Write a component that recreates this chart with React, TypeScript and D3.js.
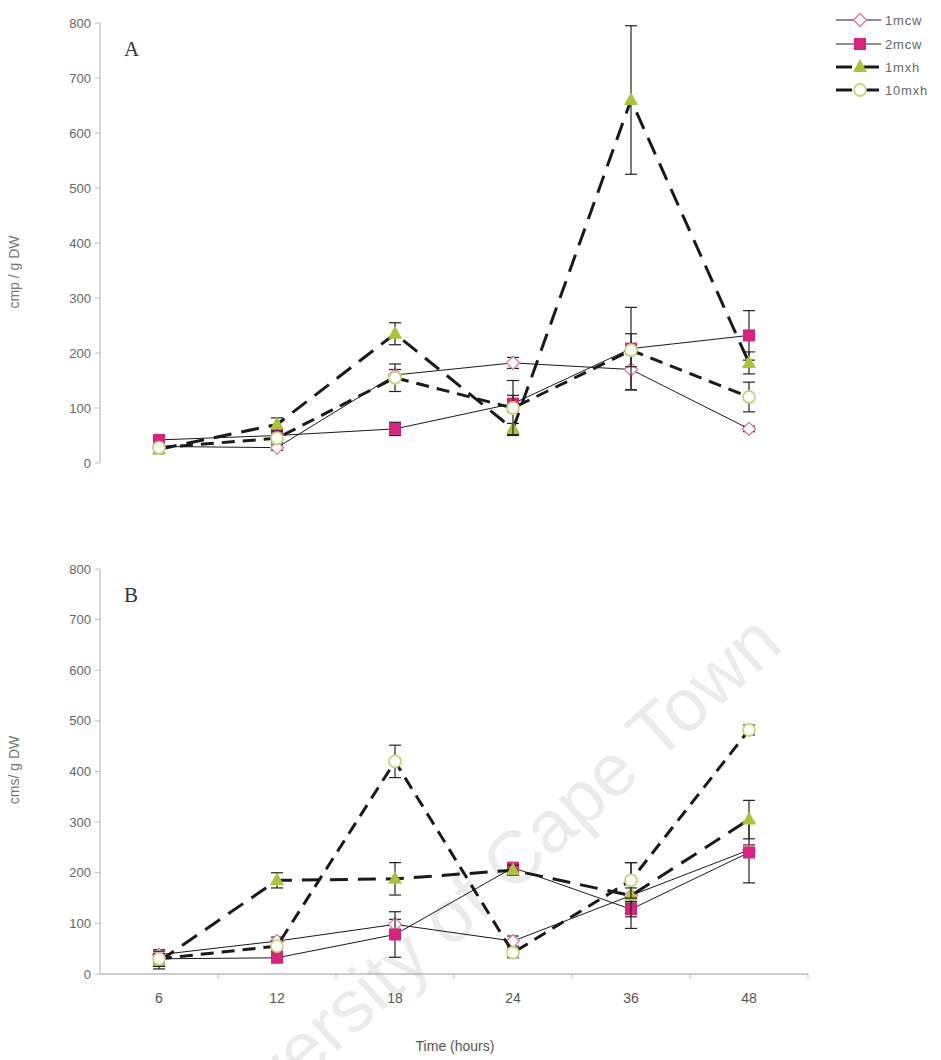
import React from "react";
import * as d3 from "d3";

const categories = ["6", "12", "18", "24", "36", "48"];
const seriesNames = ["1mcw", "2mcw", "1mxh", "10mxh"];

// Panel A (cmp / g DW)
const a1mcw = [30, 28, 160, 182, 170, 62];
const a2mcw = [42, 50, 62, 108, 208, 232];
const a1mxh = [25, 70, 235, 62, 660, 182];
const a10mxh = [28, 45, 155, 100, 205, 120];
const a1mcwErr = [5, 5, 10, 10, 37, 5];
const a2mcwErr = [8, 10, 12, 15, 75, 45];
const a1mxhErr = [8, 12, 20, 10, 135, 20];
const a10mxhErr = [5, 8, 25, 50, 30, 27];

// Panel B (cms / g DW)
const b1mcw = [38, 65, 98, 65, 155, 245];
const b2mcw = [30, 32, 78, 210, 128, 240];
const b1mxh = [25, 185, 188, 205, 155, 305];
const b10mxh = [30, 55, 420, 42, 185, 482];
const b1mcwErr = [10, 8, 10, 10, 15, 10];
const b2mcwErr = [10, 5, 45, 10, 15, 60];
const b1mxhErr = [15, 15, 32, 10, 65, 38];
const b10mxhErr = [15, 10, 32, 10, 35, 10];

const yTicks = [0, 100, 200, 300, 400, 500, 600, 700, 800];

const PINK = "#d8237c";
const GREEN = "#a8c43a";
const CIRCLE = "#c6d67f";

type Style = { kind: string; width: number; dash?: string };
const styles: Style[] = [
  { kind: "diamond", width: 1 },
  { kind: "square", width: 1 },
  { kind: "triangle", width: 3, dash: "18,10" },
  { kind: "circle", width: 3, dash: "13,8" },
];

function Marker({ kind, x, y }: { kind: string; x: number; y: number }) {
  if (kind === "diamond")
    return (
      <path
        d={`M${x},${y - 6.5}L${x + 6.5},${y}L${x},${y + 6.5}L${x - 6.5},${y}Z`}
        fill="#fff"
        stroke="#e46fa6"
        strokeWidth={1.3}
      />
    );
  if (kind === "square")
    return <rect x={x - 6} y={y - 6} width={12} height={12} fill={PINK} />;
  if (kind === "triangle")
    return (
      <path
        d={`M${x},${y - 8}L${x + 7},${y + 5}L${x - 7},${y + 5}Z`}
        fill={GREEN}
      />
    );
  return <circle cx={x} cy={y} r={6} fill="#fff" stroke={CIRCLE} strokeWidth={1.8} />;
}

const x = d3.scaleBand<string>().domain(categories).range([100, 808]).padding(0);
const cx = (c: string) => (x(c) as number) + x.bandwidth() / 2;

function Panel({
  top,
  bottom,
  values,
  errors,
  label,
  title,
  titleY,
  showXAxis,
}: {
  top: number;
  bottom: number;
  values: number[][];
  errors: number[][];
  label: string;
  title: string;
  titleY: number;
  showXAxis: boolean;
}) {
  const y = d3.scaleLinear().domain([0, 800]).range([bottom, top]);
  const line = d3
    .line<number>()
    .x((_, i) => cx(categories[i]))
    .y((v) => y(v));
  return (
    <g>
      <line x1={100} x2={100} y1={top} y2={bottom} stroke="#bdbdbd" strokeWidth={1.2} />
      {yTicks.map((t) => (
        <g key={t}>
          <line x1={95} x2={100} y1={y(t)} y2={y(t)} stroke="#bdbdbd" />
          <text
            x={91}
            y={y(t)}
            dy="0.35em"
            textAnchor="end"
            fontSize={13}
            fill="#666"
            fontFamily="Liberation Sans, Arial, sans-serif"
          >
            {t}
          </text>
        </g>
      ))}
      {showXAxis && (
        <g>
          <line x1={100} x2={808} y1={bottom} y2={bottom} stroke="#9a9a9a" strokeWidth={1.2} />
          {categories.map((c) => (
            <line
              key={c}
              x1={(x(c) as number) + x.bandwidth()}
              x2={(x(c) as number) + x.bandwidth()}
              y1={bottom}
              y2={bottom + 5}
              stroke="#bdbdbd"
            />
          ))}
        </g>
      )}
      <text
        transform={`translate(19,${titleY}) rotate(-90)`}
        textAnchor="middle"
        fontSize={14}
        fill="#777"
        fontFamily="Liberation Sans, Arial, sans-serif"
      >
        {title}
      </text>
      <text
        x={124}
        y={top + 33}
        fontSize={21}
        fill="#333"
        fontFamily="Liberation Serif, DejaVu Serif, serif"
      >
        {label}
      </text>
      {values.map((vals, si) => {
        const st = styles[si];
        return (
          <g key={si}>
            {vals.map((v, i) => {
              const px = cx(categories[i]);
              const e = errors[si][i];
              return (
                <g key={i} stroke="#222" strokeWidth={1.2}>
                  <line x1={px} x2={px} y1={y(v + e)} y2={y(v - e)} />
                  <line x1={px - 6} x2={px + 6} y1={y(v + e)} y2={y(v + e)} />
                  <line x1={px - 6} x2={px + 6} y1={y(v - e)} y2={y(v - e)} />
                </g>
              );
            })}
            <path
              d={line(vals) as string}
              fill="none"
              stroke="#1a1a1a"
              strokeWidth={st.width}
              strokeDasharray={st.dash}
            />
            {vals.map((v, i) => (
              <Marker key={i} kind={st.kind} x={cx(categories[i])} y={y(v)} />
            ))}
          </g>
        );
      })}
    </g>
  );
}

export default function App() {
  const legendY = [20, 44, 67, 90];
  return (
    <svg width={941} height={1060} style={{ display: "block", position: "absolute", left: 0, top: 0 }}>
      <rect width={941} height={1060} fill="#fff" />
      <text
        transform="translate(785,648) rotate(-42)"
        textAnchor="end"
        fontSize={74}
        fill="#ebebeb"
        fontFamily="Liberation Sans, Arial, sans-serif"
      >
        University of Cape Town
      </text>
      <Panel
        top={23}
        bottom={463}
        values={[a1mcw, a2mcw, a1mxh, a10mxh]}
        errors={[a1mcwErr, a2mcwErr, a1mxhErr, a10mxhErr]}
        label="A"
        title="cmp / g DW"
        titleY={272}
        showXAxis={false}
      />
      <Panel
        top={569}
        bottom={974}
        values={[b1mcw, b2mcw, b1mxh, b10mxh]}
        errors={[b1mcwErr, b2mcwErr, b1mxhErr, b10mxhErr]}
        label="B"
        title="cms/ g DW"
        titleY={770}
        showXAxis={true}
      />
      {categories.map((c) => (
        <text
          key={c}
          x={cx(c)}
          y={998}
          dy="0.35em"
          textAnchor="middle"
          fontSize={14}
          fill="#555"
          fontFamily="Liberation Sans, Arial, sans-serif"
        >
          {c}
        </text>
      ))}
      <text
        x={455}
        y={1046}
        dy="0.35em"
        textAnchor="middle"
        fontSize={14}
        fill="#555"
        fontFamily="Liberation Sans, Arial, sans-serif"
      >
        Time (hours)
      </text>
      {seriesNames.map((n, i) => (
        <g key={n}>
          <line
            x1={836}
            x2={881}
            y1={legendY[i]}
            y2={legendY[i]}
            stroke="#1a1a1a"
            strokeWidth={styles[i].width}
            strokeDasharray={styles[i].dash ? "16,11" : undefined}
          />
          <Marker kind={styles[i].kind} x={860} y={legendY[i]} />
          <text
            x={885}
            y={legendY[i]}
            dy="0.35em"
            fontSize={13}
            letterSpacing={0.8}
            fill="#666"
            fontFamily="Liberation Sans, Arial, sans-serif"
          >
            {n}
          </text>
        </g>
      ))}
    </svg>
  );
}
